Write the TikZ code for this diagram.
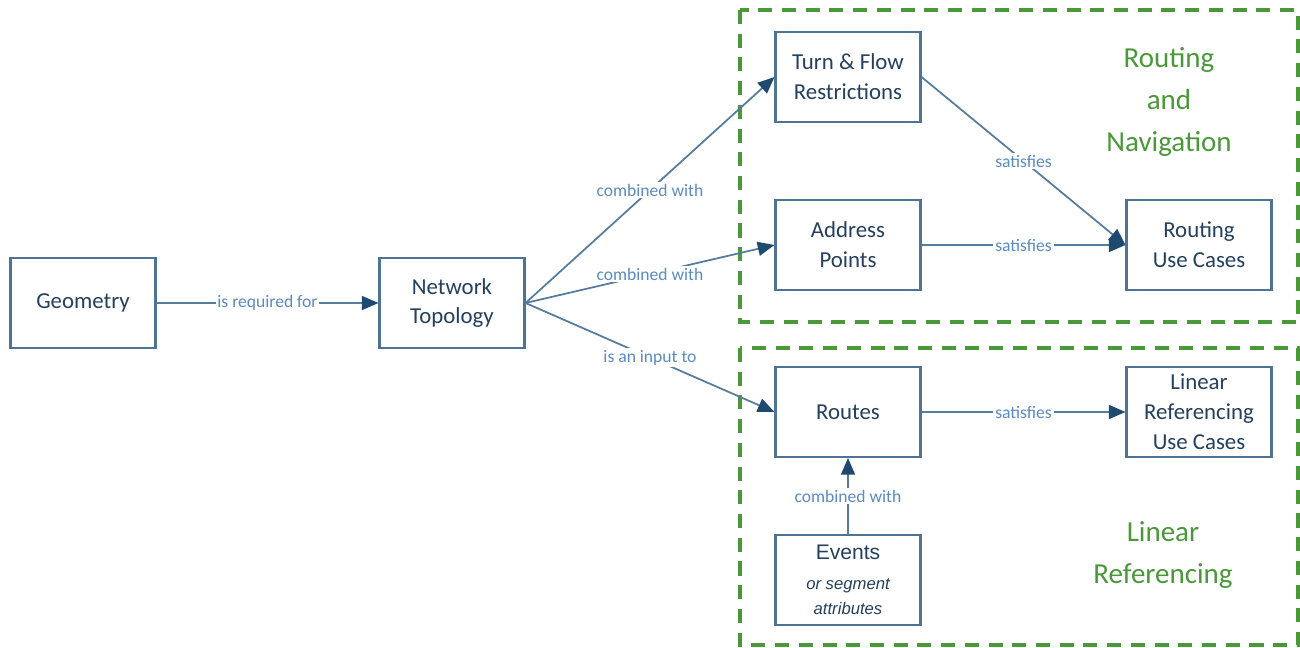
\documentclass[tikz,border=0pt]{standalone}
\usepackage{fontspec}
\setmainfont{Carlito}
\newfontfamily\arialfont{Liberation Sans}
\usetikzlibrary{arrows.meta}

\definecolor{boxline}{HTML}{4F7392}
\definecolor{edgeline}{HTML}{557C9E}
\definecolor{tipblue}{HTML}{1F4A70}
\definecolor{labelblue}{HTML}{5A8BC2}
\definecolor{boxtext}{HTML}{24405E}
\definecolor{groupgreen}{HTML}{4A983A}

\begin{document}
\begin{tikzpicture}[x=0.02cm, y=-0.02cm,
        box/.style={draw=boxline, line width=1.2pt, fill=white, minimum width=2.9cm,
            minimum height=1.8cm, align=center, text=boxtext, font=\fontsize{13}{17}\selectfont},
        link/.style={draw=edgeline, line width=1pt, -{Triangle[length=9.5pt,width=8pt,color=tipblue]}},
        rel/.style={fill=white, text=labelblue, inner sep=1pt, font=\fontsize{10}{12}\selectfont},
        group/.style={draw=groupgreen, line width=1.8pt, dash pattern=on 8pt off 5.5pt},
        title/.style={text=groupgreen, align=center, font=\fontsize{16.5}{24}\selectfont}]
    \useasboundingbox (0,0) rectangle (1300,648);
    % the two use case groups
    \draw[group] (740,10) rectangle (1298,322);
    \draw[group] (740,348) rectangle (1298,645);
    \node[title] (rn-title) at (1169,102) {Routing\\and\\Navigation};
    \node[title] (lr-title) at (1163,555) {Linear\\Referencing};
    % boxes
    \node[box] (geometry) at (83,303) {Geometry};
    \node[box] (topology) at (452,303) {Network\\Topology};
    \node[box] (turns) at (848,77) {Turn \& Flow\\Restrictions};
    \node[box] (address) at (848,245) {Address\\Points};
    \node[box] (routing-uc) at (1199,245) {Routing\\Use Cases};
    \node[box] (routes) at (848,412) {Routes};
    \node[box] (lr-uc) at (1199,412) {Linear\\Referencing\\Use Cases};
    \node[box, font=\arialfont\fontsize{12}{14}\selectfont] (events) at (848,580)
        {Events\\[3pt]{\fontsize{9.5}{11}\selectfont\itshape or segment}\\{\fontsize{9.5}{11}\selectfont\itshape attributes}};
    % relations
    \draw[link] (geometry) -- node[rel] {is required for} (topology);
    \draw[link] (topology.east) -- node[rel] {combined with} (turns.west);
    \draw[link] (topology.east) -- node[rel] {combined with} (address.west);
    \draw[link] (topology.east) -- node[rel] {is an input to} (routes.west);
    \draw[link] (turns.east) -- node[rel] {satisfies} (routing-uc.west);
    \draw[link] (address) -- node[rel] {satisfies} (routing-uc);
    \draw[link] (routes) -- node[rel] {satisfies} (lr-uc);
    \draw[link] (events) -- node[rel] {combined with} (routes);
\end{tikzpicture}
\end{document}
